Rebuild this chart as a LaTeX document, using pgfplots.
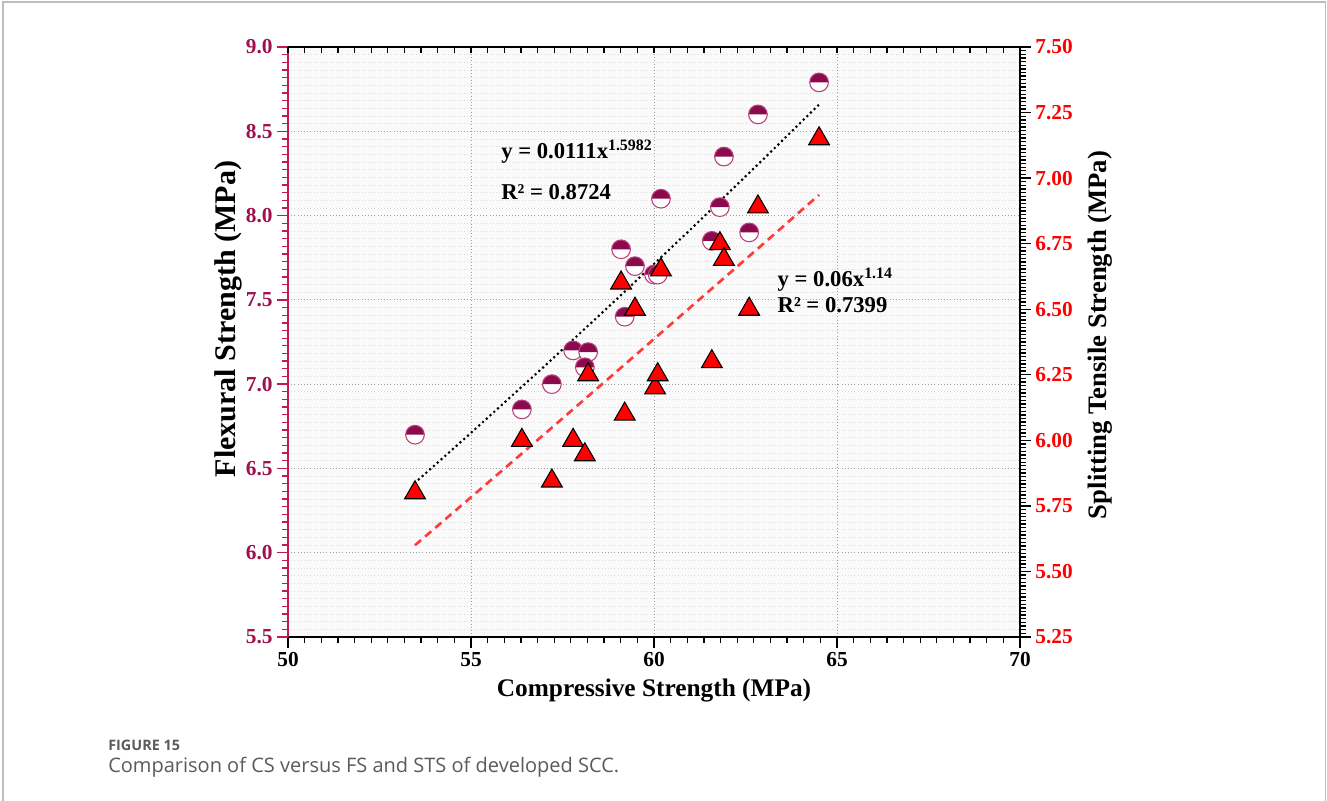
\documentclass[border=0pt]{standalone}
\usepackage{fontspec}
\setmainfont{Liberation Serif}
\newfontfamily\capfont{Open Sans}
\usepackage{pgfplots}
\pgfplotsset{compat=1.18}
\usetikzlibrary{plotmarks}

\definecolor{fsline}{HTML}{C01A5A}
\definecolor{fstext}{HTML}{A0104C}
\definecolor{fsfill}{HTML}{8B0A4E}
\definecolor{fsedge}{HTML}{B8407A}
\definecolor{capgray}{HTML}{5A5A5A}
\definecolor{framegray}{HTML}{BDBDBD}
\definecolor{dashred}{HTML}{FF3B3B}

% circle with the upper half filled, lower half white
\pgfdeclareplotmark{tophalf}{%
  \pgfpathcircle{\pgfpointorigin}{\pgfplotmarksize}%
  \pgfsetfillcolor{white}\pgfusepathqfill
  \pgfpathmoveto{\pgfqpoint{\pgfplotmarksize}{0pt}}%
  \pgfpatharc{0}{180}{\pgfplotmarksize}%
  \pgfpathclose
  \pgfsetfillcolor{fsfill}\pgfusepathqfill
  \pgfpathcircle{\pgfpointorigin}{\pgfplotmarksize}%
  \pgfusepathqstroke
}

\pgfplotsset{
  base/.style={
    scale only axis, width=549pt, height=442.5pt,
    at={(216pt,122.25pt)}, anchor=south west,
    xmin=50, xmax=70, xtick={50,55,60,65,70},
    tick label style={font=\bfseries\fontsize{16}{16}\selectfont},
    /pgf/number format/assume math mode=true,
    axis line style={line width=1.2pt},
    every tick/.append style={line width=1pt},
    major tick length=8pt, minor tick length=4.5pt,
  },
}

\begin{document}
\begin{tikzpicture}
\path[use as bounding box] (0,0) rectangle (995.25pt,600pt);
\draw[framegray, line width=1pt] (2.25pt,-2pt) -- (2.25pt,598.5pt) -- (994pt,598.5pt) -- (994pt,-2pt);
\node[anchor=west, inner sep=0pt, text=capgray, font=\capfont\bfseries\fontsize{10.8}{12}\selectfont] at (81pt,41.25pt) {FIGURE 15};
\node[anchor=west, inner sep=0pt, text=capgray, font=\capfont\fontsize{15}{17}\selectfont] at (81pt,24.5pt) {Comparison of CS versus FS and STS of developed SCC.};

% left axis: flexural strength
\begin{axis}[base,
  ymin=5.5, ymax=9.0, ytick={5.5,6.0,6.5,7.0,7.5,8.0,8.5,9.0},
  minor x tick num=10, minor y tick num=10,
  axis x line*=bottom, axis y line*=left,
  x axis line style={-, black}, y axis line style={-, fsline},
  y tick style={fsline}, x tick style={black},
  tick align=outside,
  yticklabel style={text=fstext, /pgf/number format/fixed, /pgf/number format/zerofill, /pgf/number format/precision=1},
  axis background/.style={fill=black!2},
  xmajorgrids, ymajorgrids, yminorgrids,
  major grid style={gray!75, dotted, line width=0.7pt},
  minor grid style={gray!28, dotted, line width=0.5pt},
  every axis x label/.style={at={(axis description cs:0.5,0)}, yshift=-40pt, anchor=center},
  every axis y label/.style={at={(axis description cs:0,0.539)}, xshift=-45pt, anchor=center, rotate=90},
  label style={font=\bfseries\fontsize{19}{19}\selectfont},
  xlabel={Compressive Strength (MPa)},
  ylabel={\fontsize{22.5}{22.5}\selectfont Flexural Strength (MPa)},
]
\addplot[black, line width=2.2pt, line cap=round, dash pattern=on 0pt off 3.8pt] coordinates {
  (53.47,6.415) (55,6.711) (57,7.105) (59,7.508) (61,7.918) (63,8.337) (64.51,8.659)
};
\addplot[only marks, mark=tophalf, mark size=7pt, mark options={draw=fsedge, line width=0.8pt}] coordinates {
  (53.47,6.70) (56.39,6.85) (57.21,7.00) (57.79,7.20) (58.20,7.19) (58.11,7.10)
  (59.10,7.80) (59.48,7.70) (59.20,7.40) (60.00,7.65) (60.10,7.65) (60.19,8.10)
  (61.58,7.85) (61.80,8.05) (61.91,8.35) (62.60,7.90) (62.84,8.60) (64.51,8.79)
};
\node[anchor=west, font=\bfseries\fontsize{17}{17}\selectfont] at (axis cs:55.7,8.38) {y = 0.0111x\textsuperscript{1.5982}};
\node[anchor=west, font=\bfseries\fontsize{17}{17}\selectfont] at (axis cs:55.7,8.14) {R² = 0.8724};
\node[anchor=west, font=\bfseries\fontsize{17}{17}\selectfont] at (axis cs:63.25,7.62) {y = 0.06x\textsuperscript{1.14}};
\node[anchor=west, font=\bfseries\fontsize{17}{17}\selectfont] at (axis cs:63.25,7.47) {R² = 0.7399};
\end{axis}

% right axis: splitting tensile strength
\begin{axis}[base,
  ymin=5.25, ymax=7.5, ytick={5.25,5.5,5.75,6.0,6.25,6.5,6.75,7.0,7.25,7.5},
  minor y tick num=17,
  axis x line=none, axis y line*=right,
  y axis line style={-, black}, y tick style={black},
  tick align=outside,
  yticklabel style={text=red, /pgf/number format/fixed, /pgf/number format/zerofill, /pgf/number format/precision=2},
  every axis y label/.style={at={(axis description cs:1,0.512)}, xshift=60pt, anchor=center, rotate=90},
  label style={font=\bfseries\fontsize{20}{20}\selectfont},
  ylabel={Splitting Tensile Strength (MPa)},
]
\addplot[dashred, line width=2pt, dash pattern=on 6pt off 4pt] coordinates {
  (53.47,5.600) (55,5.783) (57,6.023) (59,6.265) (61,6.508) (63,6.751) (64.51,6.936)
};
\addplot[only marks, mark=triangle*, mark size=9pt, mark options={fill=red, draw=black, line width=0.8pt}] coordinates {
  (53.47,5.80) (56.39,6.00) (57.21,5.845) (57.79,6.00) (58.11,5.945) (58.20,6.25)
  (59.20,6.10) (59.10,6.60) (59.48,6.50) (60.03,6.20) (60.10,6.25) (60.19,6.65)
  (61.58,6.30) (61.80,6.75) (61.91,6.69) (62.60,6.50) (62.84,6.89) (64.51,7.15)
};
\end{axis}

% top axis line, ticks pointing inward
\begin{axis}[base,
  ymin=0, ymax=1,
  axis y line=none, axis x line*=top,
  x axis line style={-, black}, x tick style={black},
  minor x tick num=10, tick align=inside,
  major tick length=4.5pt, xticklabels={},
]
\end{axis}
\end{tikzpicture}
\end{document}
